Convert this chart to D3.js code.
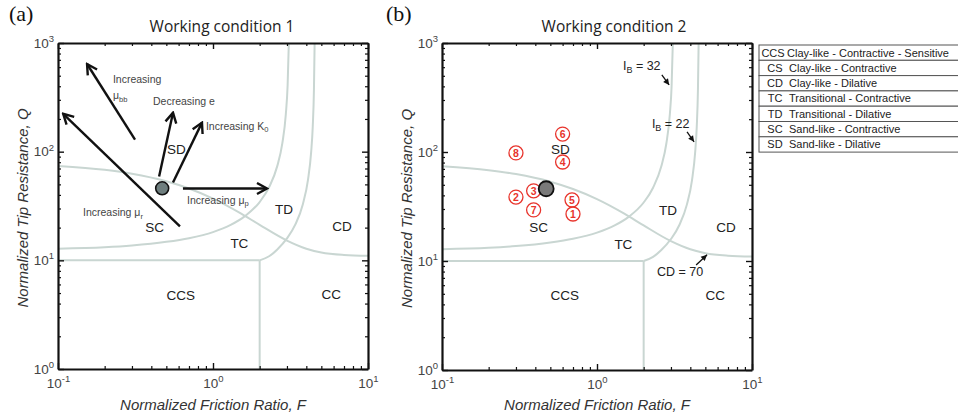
<!DOCTYPE html>
<html>
<head>
<meta charset="utf-8">
<script src="https://cdnjs.cloudflare.com/ajax/libs/d3/7.8.5/d3.min.js"></script>
<style>
  body { margin: 0; background: #fff; }
  text { font-family: "Liberation Sans", Arial, sans-serif; }
</style>
</head>
<body>
<svg id="chart" width="958" height="415"></svg>
<script>
// ---- data (F = friction ratio, Q = tip resistance) ----
const boundaryCcsTop = [[0.1, 10], [2, 10]];
const boundaryCcsRight = [[2, 1], [2, 10]];
const boundaryIb32 = [[0.1, 12.8], [0.2, 13.2], [0.3, 13.7], [0.5, 14.8], [0.7, 16], [1, 18.2], [1.3, 21.2],
  [1.6, 25.4], [2, 34.4], [2.3, 47], [2.6, 74], [2.8, 119], [2.95, 221], [3.03, 408], [3.09, 1100]];
const boundaryIb22 = [[2, 10], [2.3, 10.9], [2.6, 12.6], [3, 15.9], [3.4, 21.4], [3.8, 32.9], [4.1, 55],
  [4.3, 100], [4.4, 169], [4.48, 375], [4.53, 1100]];
const boundaryCd70 = [[0.1, 74], [0.2, 68], [0.3, 62.7], [0.5, 53.4], [0.7, 45.8], [1, 37], [1.5, 27.2],
  [2, 21.2], [3, 15.2], [4, 12.8], [5, 11.8], [7, 11.2], [10, 11]];

const zoneNames = ["SD", "SC", "TD", "TC", "CCS", "CD", "CC"];
const zoneF = [0.58, 0.42, 2.87, 1.48, 0.62, 6.8, 5.8];
const zoneQ = [96, 18.3, 26.5, 13, 4.35, 18.5, 4.4];

const basePoint = [0.47, 46];

// panel (a) arrows: [tailF, tailQ, headF, headQ]
const arrowsA = [
  [0.314, 129, 0.154, 641],
  [0.612, 20.5, 0.108, 223],
  [0.449, 59, 0.552, 228],
  [0.552, 52, 0.849, 185],
  [0.64, 45.8, 2.23, 45.8]
];
// panel (a) arrow captions: text pieces [text, isSub], anchored at F, Q
const notesA = [
  { F: 0.226, Q: 430, parts: [["Increasing", 0]] },
  { F: 0.226, Q: 306, parts: [["\u03bc", 0], ["bb", 1]] },
  { F: 0.41, Q: 270, parts: [["Decreasing e", 0]] },
  { F: 0.90, Q: 159, parts: [["Increasing K", 0], ["0", 1]] },
  { F: 0.68, Q: 33.3, parts: [["Increasing \u03bc", 0], ["p", 1]] },
  { F: 0.145, Q: 25.6, parts: [["Increasing \u03bc", 0], ["r", 1]] }
];

// panel (b) test points
const caseLabels = ["1", "2", "3", "4", "5", "6", "7", "8"];
const caseF = [0.70, 0.30, 0.39, 0.60, 0.69, 0.60, 0.39, 0.30];
const caseQ = [27, 38.6, 44, 81, 36.3, 146, 29.4, 98];

// panel (b) curve captions with small arrows
const notesB = [
  { F: 1.47, Q: 565, parts: [["I", 0], ["B", 1], [" = 32", 0]], arrow: [2.62, 509, 2.92, 412] },
  { F: 2.26, Q: 166, parts: [["I", 0], ["B", 1], [" = 22", 0]], arrow: [3.81, 153, 4.23, 124] },
  { F: 2.44, Q: 7.28, parts: [["CD = 70", 0]], arrow: [4.36, 9.2, 5.13, 11.4] }
];

const xMajor = [0.1, 1, 10];
const yMajor = [1, 10, 100, 1000];

const legendCodes = ["CCS", "CS", "CD", "TC", "TD", "SC", "SD"];
const legendNames = ["Clay-like - Contractive - Sensitive", "Clay-like - Contractive", "Clay-like - Dilative",
  "Transitional - Contractive", "Transitional - Dilative", "Sand-like - Contractive", "Sand-like - Dilative"];

// ---- drawing ----
const svg = d3.select("#chart");
const defs = svg.append("defs");

defs.append("marker")
  .attr("id", "bigHead")
  .attr("viewBox", "-12 -7 14 14")
  .attr("refX", 0).attr("refY", 0)
  .attr("markerWidth", 14).attr("markerHeight", 14)
  .attr("markerUnits", "userSpaceOnUse")
  .attr("orient", "auto")
  .append("path")
  .attr("d", "M-10,-5.5 L0,0 L-10,5.5")
  .attr("fill", "none")
  .attr("stroke", "#111")
  .attr("stroke-width", 2.4);

defs.append("marker")
  .attr("id", "smallHead")
  .attr("viewBox", "-7 -4 8 8")
  .attr("refX", 0).attr("refY", 0)
  .attr("markerWidth", 8).attr("markerHeight", 8)
  .attr("markerUnits", "userSpaceOnUse")
  .attr("orient", "auto")
  .append("path")
  .attr("d", "M-6,-3 L0,0 L-6,3 Z")
  .attr("fill", "#111");

function richText(sel, parts, size) {
  let shifted = false;
  parts.forEach(([txt, sub]) => {
    const t = sel.append("tspan").text(txt);
    if (sub && !shifted) { t.attr("dy", "0.35em").attr("font-size", size * 0.72); shifted = true; }
    else if (!sub && shifted) { t.attr("dy", "-0.25em"); shifted = false; }
    else if (sub) t.attr("font-size", size * 0.72);
  });
}

function supTicks(g) {
  g.selectAll(".tick text").each(function (d) {
    const t = d3.select(this).text("");
    t.append("tspan").text("10");
    t.append("tspan").attr("dy", "-0.6em").attr("font-size", "9.5px").text(Math.round(Math.log10(d)));
  });
}

function drawPanel(p) {
  const x = d3.scaleLog().domain([0.1, 10]).range([p.left, p.right]);
  const y = d3.scaleLog().domain([1, 1000]).range([p.bottom, p.top]);
  const isMajor = d => Math.abs(Math.log10(d) - Math.round(Math.log10(d))) < 1e-6;
  const xMinor = x.ticks().filter(d => !isMajor(d));
  const yMinor = y.ticks().filter(d => !isMajor(d));

  const g = svg.append("g");
  const clipId = "clip" + p.id;
  defs.append("clipPath").attr("id", clipId)
    .append("rect")
    .attr("x", p.left).attr("y", p.top)
    .attr("width", p.right - p.left).attr("height", p.bottom - p.top);

  // region boundaries
  const line = d3.line().x(d => x(d[0])).y(d => y(d[1])).curve(d3.curveMonotoneX);
  const bnd = g.append("g").attr("clip-path", `url(#${clipId})`);
  [boundaryCcsTop, boundaryIb32, boundaryIb22, boundaryCd70].forEach(b => {
    bnd.append("path").attr("d", line(b))
      .attr("fill", "none").attr("stroke", "#c9d6d2").attr("stroke-width", 2);
  });
  bnd.append("path").attr("d", d3.line().x(d => x(d[0])).y(d => y(d[1]))(boundaryCcsRight))
    .attr("fill", "none").attr("stroke", "#c9d6d2").attr("stroke-width", 2);

  // axes: major + minor ticks, inward, on all four sides
  const sides = [
    { gen: d3.axisBottom(x), t: `translate(0,${p.bottom})`, major: xMajor, minor: xMinor, labels: true },
    { gen: d3.axisTop(x), t: `translate(0,${p.top})`, major: xMajor, minor: xMinor, labels: false },
    { gen: d3.axisLeft(y), t: `translate(${p.left},0)`, major: yMajor, minor: yMinor, labels: true },
    { gen: d3.axisRight(y), t: `translate(${p.right},0)`, major: yMajor, minor: yMinor, labels: false }
  ];
  sides.forEach((s, i) => {
    const gm = g.append("g").attr("transform", s.t)
      .call(s.gen.tickValues(s.minor).tickSizeInner(-3).tickSizeOuter(0).tickFormat(""));
    gm.select(".domain").remove();
    gm.selectAll(".tick line").attr("stroke", "#111").attr("stroke-width", 1.2);
    const ga = g.append("g").attr("transform", s.t)
      .call(s.gen.tickValues(s.major).tickSizeInner(-6).tickSizeOuter(0)
        .tickPadding(i < 2 ? 9 : 4).tickFormat(s.labels ? (d => "10") : ""));
    ga.select(".domain").attr("stroke", "#111").attr("stroke-width", 2.2);
    ga.selectAll(".tick line").attr("stroke", "#111").attr("stroke-width", 1.4);
    ga.selectAll(".tick text").attr("font-size", "13.5px").attr("fill", "#444")
      .attr("font-family", "'Liberation Sans', Arial, sans-serif");
    if (s.labels) supTicks(ga);
  });

  // axis titles
  g.append("text")
    .attr("x", (p.left + p.right) / 2).attr("y", 410)
    .attr("text-anchor", "middle").attr("font-style", "italic")
    .attr("font-size", "15px").attr("fill", "#333")
    .text("Normalized Friction Ratio, F");
  g.append("text")
    .attr("transform", `translate(${p.left - 30},${(p.top + p.bottom) / 2 + 2}) rotate(-90)`)
    .attr("text-anchor", "middle").attr("font-style", "italic")
    .attr("font-size", "15px").attr("fill", "#333")
    .text("Normalized Tip Resistance, Q");

  // panel title and tag
  g.append("text")
    .attr("x", p.titleX).attr("y", 32)
    .attr("text-anchor", "middle").attr("font-size", "15.5px").attr("fill", "#222")
    .style("font-family", "'Open Sans', sans-serif")
    .text(p.title);
  g.append("text")
    .attr("x", p.tagX).attr("y", 21)
    .attr("font-size", "22px").attr("fill", "#111")
    .style("font-family", "'Liberation Serif', 'Times New Roman', serif")
    .text(p.tag);

  // zone names
  g.selectAll(".zone").data(zoneNames).enter().append("text")
    .attr("x", (d, i) => x(zoneF[i])).attr("y", (d, i) => y(zoneQ[i]))
    .attr("text-anchor", "middle").attr("font-size", "13.5px").attr("fill", "#222")
    .text(d => d);

  return { g, x, y };
}

// ---- panel (a) ----
const A = drawPanel({ id: "a", left: 58, right: 368, top: 43, bottom: 369,
  title: "Working condition 1", titleX: 222, tag: "(a)", tagX: 9 });

A.g.selectAll(".arr").data(arrowsA).enter().append("line")
  .attr("x1", d => A.x(d[0])).attr("y1", d => A.y(d[1]))
  .attr("x2", d => A.x(d[2])).attr("y2", d => A.y(d[3]))
  .attr("stroke", "#111").attr("stroke-width", 2.4)
  .attr("marker-end", "url(#bigHead)");

notesA.forEach(n => {
  const t = A.g.append("text")
    .attr("x", A.x(n.F)).attr("y", A.y(n.Q))
    .attr("font-size", "10.5px").attr("fill", "#444");
  richText(t, n.parts, 10.5);
});

A.g.append("circle")
  .attr("cx", A.x(basePoint[0])).attr("cy", A.y(basePoint[1])).attr("r", 6.5)
  .attr("fill", "#6e7e7e").attr("stroke", "#111").attr("stroke-width", 1.6);

// ---- panel (b) ----
const B = drawPanel({ id: "b", left: 442, right: 752, top: 43, bottom: 370,
  title: "Working condition 2", titleX: 614, tag: "(b)", tagX: 386 });

notesB.forEach(n => {
  const t = B.g.append("text")
    .attr("x", B.x(n.F)).attr("y", B.y(n.Q))
    .attr("font-size", "12.5px").attr("fill", "#222");
  richText(t, n.parts, 12.5);
  B.g.append("line")
    .attr("x1", B.x(n.arrow[0])).attr("y1", B.y(n.arrow[1]))
    .attr("x2", B.x(n.arrow[2])).attr("y2", B.y(n.arrow[3]))
    .attr("stroke", "#111").attr("stroke-width", 1.3)
    .attr("marker-end", "url(#smallHead)");
});

const cases = B.g.selectAll(".case").data(caseLabels).enter().append("g")
  .attr("transform", (d, i) => `translate(${B.x(caseF[i])},${B.y(caseQ[i])})`);
cases.append("circle").attr("r", 7)
  .attr("fill", "none").attr("stroke", "#e8342c").attr("stroke-width", 1.3);
cases.append("text").attr("text-anchor", "middle").attr("dy", "0.36em")
  .attr("font-size", "10.5px").attr("font-weight", "bold").attr("fill", "#e8342c")
  .text(d => d);

B.g.append("circle")
  .attr("cx", B.x(basePoint[0])).attr("cy", B.y(basePoint[1])).attr("r", 7.5)
  .attr("fill", "#7a7a7a").attr("stroke", "#111").attr("stroke-width", 1.8);

// ---- legend table ----
const rowH = 15.3;
const leg = svg.append("g").attr("transform", "translate(759,45)");
leg.selectAll(".row").data(legendCodes).enter().append("rect")
  .attr("x", 0).attr("y", (d, i) => i * rowH)
  .attr("width", 220).attr("height", rowH)
  .attr("fill", "#fff").attr("stroke", "#555").attr("stroke-width", 1);
leg.selectAll(".code").data(legendCodes).enter().append("text")
  .attr("x", (d, i) => i === 0 ? 14 : 16).attr("y", (d, i) => i * rowH + 11.5)
  .attr("text-anchor", "middle").attr("font-size", "11px").attr("fill", "#222")
  .text(d => d);
leg.selectAll(".name").data(legendNames).enter().append("text")
  .attr("x", (d, i) => i === 0 ? 28 : 30).attr("y", (d, i) => i * rowH + 11.5)
  .attr("font-size", "11px").attr("fill", "#222")
  .text(d => d);
</script>
</body>
</html>
